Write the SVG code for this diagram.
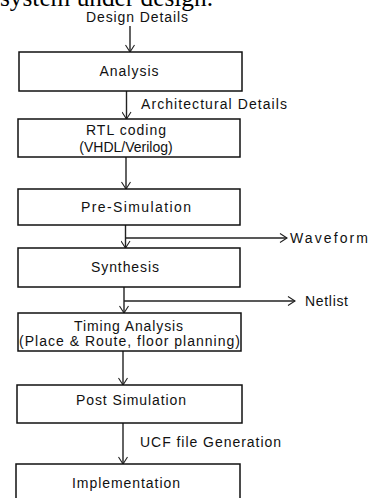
<svg xmlns="http://www.w3.org/2000/svg" width="372" height="498" viewBox="0 0 372 498">
  <style>
    .box { fill: #ffffff; stroke: #111111; stroke-width: 1.5; }
    .lbl { font-family: "Liberation Sans", Arial, sans-serif; font-size: 14px; fill: #111111; }
    .mid { text-anchor: middle; }
    .conn { stroke: #222222; stroke-width: 1.4; fill: none; }
    .serif { font-family: "Liberation Serif", "Times New Roman", serif; font-size: 25px; fill: #000000; }
  </style>
  <defs>
    <marker id="arr" viewBox="0 0 10 10" refX="9.5" refY="5" markerWidth="10" markerHeight="10" markerUnits="userSpaceOnUse" orient="auto">
      <path d="M2.5,0.5 L9.5,5 L2.5,9.5" fill="none" stroke="#222222" stroke-width="1.1"/>
    </marker>
  </defs>
  <rect width="372" height="498" fill="#ffffff"/>

  <text class="serif" x="0" y="6" textLength="213" lengthAdjust="spacingAndGlyphs">system under design.</text>

  <g id="connectors">
    <line class="conn" x1="130" y1="26" x2="130" y2="52" marker-end="url(#arr)"/>
    <line class="conn" x1="126.5" y1="91" x2="126.5" y2="119" marker-end="url(#arr)"/>
    <line class="conn" x1="126" y1="157" x2="126" y2="189" marker-end="url(#arr)"/>
    <line class="conn" x1="125.5" y1="225" x2="125.5" y2="248" marker-end="url(#arr)"/>
    <line class="conn" x1="125.5" y1="238" x2="287" y2="238" marker-end="url(#arr)"/>
    <line class="conn" x1="124" y1="287" x2="124" y2="313" marker-end="url(#arr)"/>
    <line class="conn" x1="124" y1="301" x2="295" y2="301" marker-end="url(#arr)"/>
    <line class="conn" x1="123" y1="351" x2="123" y2="385" marker-end="url(#arr)"/>
    <line class="conn" x1="123" y1="423" x2="123" y2="464" marker-end="url(#arr)"/>
    <text class="lbl" x="137" y="22" text-anchor="middle" textLength="102" lengthAdjust="spacing">Design Details</text>
    <text class="lbl" x="141" y="109" textLength="146" lengthAdjust="spacing">Architectural Details</text>
    <text class="lbl" x="290" y="243" textLength="78" lengthAdjust="spacing">Waveform</text>
    <text class="lbl" x="305" y="306" textLength="43" lengthAdjust="spacing">Netlist</text>
    <text class="lbl" x="140" y="447" textLength="141" lengthAdjust="spacing">UCF file Generation</text>
  </g>

  <g id="analysis">
    <rect class="box" x="19" y="52" width="223" height="39"/>
    <text class="lbl mid" x="129" y="76" textLength="59" lengthAdjust="spacing">Analysis</text>
  </g>
  <g id="rtl-coding">
    <rect class="box" x="18" y="119" width="222" height="38"/>
    <text class="lbl mid" x="126" y="135" textLength="80" lengthAdjust="spacing">RTL coding</text>
    <text class="lbl mid" x="126" y="152" font-size="13">(VHDL/Verilog)</text>
  </g>
  <g id="pre-simulation">
    <rect class="box" x="18" y="189" width="222" height="36"/>
    <text class="lbl mid" x="136" y="212" textLength="110" lengthAdjust="spacing">Pre-Simulation</text>
  </g>
  <g id="synthesis">
    <rect class="box" x="18" y="248" width="222" height="39"/>
    <text class="lbl mid" x="125" y="272" textLength="68" lengthAdjust="spacing">Synthesis</text>
  </g>
  <g id="timing-analysis">
    <rect class="box" x="18" y="313" width="223" height="38"/>
    <text class="lbl mid" x="128.5" y="331" textLength="109" lengthAdjust="spacing">Timing Analysis</text>
    <text class="lbl" x="19" y="346" textLength="221" lengthAdjust="spacing">(Place &amp; Route, floor planning)</text>
  </g>
  <g id="post-simulation">
    <rect class="box" x="17" y="385" width="225" height="38"/>
    <text class="lbl mid" x="131" y="405" textLength="110" lengthAdjust="spacing">Post Simulation</text>
  </g>
  <g id="implementation">
    <rect class="box" x="16" y="464" width="224" height="40"/>
    <text class="lbl mid" x="126" y="488" textLength="108" lengthAdjust="spacing">Implementation</text>
  </g>
</svg>
